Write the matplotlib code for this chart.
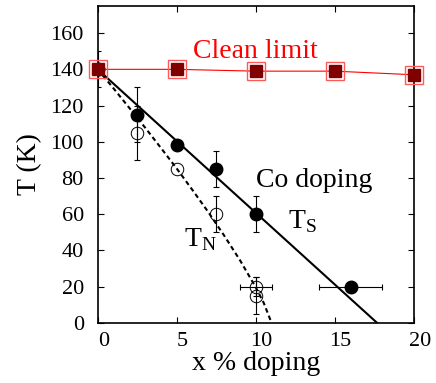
import numpy as np
import matplotlib
matplotlib.use("Agg")
import matplotlib.pyplot as plt
import matplotlib.transforms as mtransforms

plt.rcParams['font.family'] = ['Liberation Serif', 'DejaVu Serif']
plt.rcParams['mathtext.fontset'] = 'custom'
plt.rcParams['mathtext.rm'] = 'Liberation Serif'

# clean limit (red squares)
clean_x = [0, 5, 10, 15, 20]
clean_y = [140, 140, 139, 139, 137]

# T_S, Co doping (filled circles)
ts_x = np.array([0, 2.5, 5, 7.5, 10, 16])
ts_y = np.array([140, 115, 98, 85, 60, 20])
ts_yerr = np.array([10, 15, 0, 10, 10, 0])
ts_xerr = np.array([0, 0, 0, 0, 0, 2])

# T_N (open circles)
tn_x = np.array([0, 2.5, 5, 7.5, 10, 10])
tn_y = np.array([140, 105, 85, 60, 20, 15])
tn_yerr = np.array([0, 15, 0, 10, 5, 10])
tn_xerr = np.array([0, 0, 0, 0, 1, 0])

# guide lines
ts_fit_x = [0, 17.67]
ts_fit_y = [140, 0]
tn_fit_x = [0, 1, 2, 3, 4, 5, 6, 7, 8, 9, 10, 10.5, 11]
tn_fit_y = [140, 129.5, 118.7, 107.8, 96.6, 85.2, 73.3, 61.1, 48.2, 34.6, 19.6, 11.1, 0]

fig = plt.figure(figsize=(4.36, 3.83), dpi=100)
ax = fig.add_axes([97.7 / 436, 1 - 322.7 / 383, 316 / 436, 316.7 / 383])

ax.plot(ts_fit_x, ts_fit_y, color='black', lw=1.5, zorder=2)
ax.plot(tn_fit_x, tn_fit_y, color='black', lw=1.5, ls=(0, (2.2, 1.6)), zorder=2)


def err(x, y, xe, ye):
    m = ye > 0
    if m.any():
        ax.errorbar(x[m], y[m], yerr=ye[m], fmt='none', ecolor='black',
                    elinewidth=0.8, capsize=2.4, capthick=0.8, zorder=3)
    m = xe > 0
    if m.any():
        ax.errorbar(x[m], y[m], xerr=xe[m], fmt='none', ecolor='black',
                    elinewidth=0.8, capsize=2.4, capthick=0.8, zorder=3)


err(ts_x, ts_y, ts_xerr, ts_yerr)
err(tn_x, tn_y, tn_xerr, tn_yerr)

ax.plot(ts_x, ts_y, 'o', color='black', ms=9, zorder=4)
ax.plot(tn_x, tn_y, 'o', mfc='none', mec='black', mew=0.7, ms=9, zorder=4)

ax.plot(clean_x, clean_y, '-', color='red', lw=0.8, zorder=5, clip_on=False)
ax.plot(clean_x, clean_y, 's', mfc='none', mec='#ff5a5a', mew=1.0, ms=12.5,
        zorder=6, clip_on=False)
ax.plot(clean_x, clean_y, 's', color='#800000', ms=8.8, zorder=7, clip_on=False)

ax.text(6.05, 146.5, 'Clean limit', color='red', fontsize=20)
ax.text(10.05, 75.2, 'Co doping', fontsize=20)
ax.text(12.05, 52.2, r'T$_{\mathrm{S}}$', fontsize=20)
ax.text(5.45, 42, r'T$_{\mathrm{N}}$', fontsize=20)

ax.set_xlim(0, 20)
ax.set_ylim(0, 175)
ax.set_xticks([0, 5, 10, 15, 20])
ax.set_yticks(range(0, 161, 20))
ax.tick_params(direction='in', top=True, right=True, length=4, width=0.8,
               labelsize=16)
ax.tick_params(axis='x', pad=7)
ax.tick_params(axis='y', pad=10)
for lab in ax.get_xticklabels():
    lab.set_transform(lab.get_transform() +
                      mtransforms.ScaledTranslation(6 / 100, 0, fig.dpi_scale_trans))
for s in ax.spines.values():
    s.set_linewidth(1.2)

ax.set_xlabel('x % doping', fontsize=20, labelpad=0)
ax.set_ylabel('T (K)', fontsize=20, labelpad=6)

fig.savefig('out.png', dpi=100)
